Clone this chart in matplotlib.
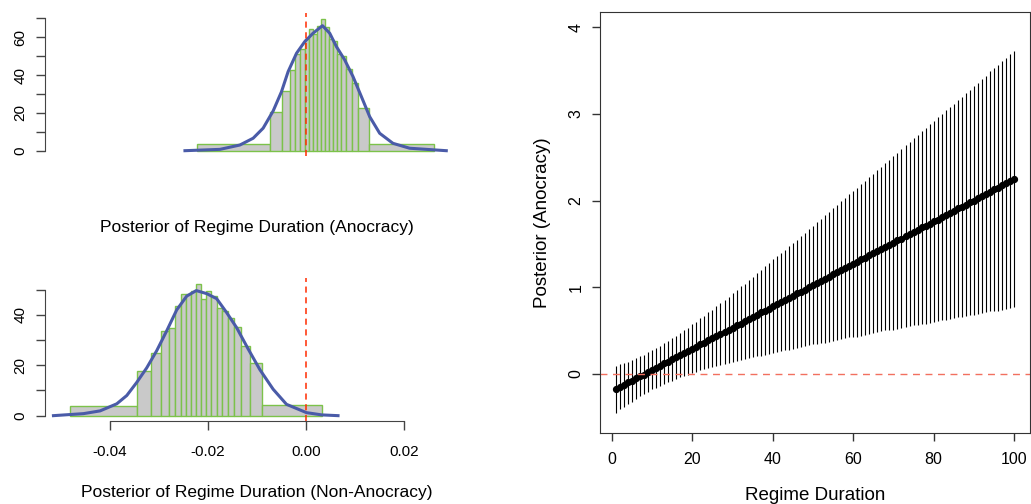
import matplotlib

matplotlib.use("Agg")

import matplotlib.pyplot as plt
import numpy as np

plt.rcParams["font.family"] = ["Liberation Sans", "DejaVu Sans"]

# Posterior of regime duration, anocracy: unequal-width histogram + density
ANOC_BREAKS = [-0.02218, -0.00732, -0.00488, -0.00332, -0.00216, -0.00118, -0.00026,
               0.00061, 0.00142, 0.00224, 0.00313, 0.00395, 0.00468, 0.00543, 0.00631,
               0.00720, 0.00822, 0.00936, 0.01066, 0.01282, 0.02612]
ANOC_HEIGHTS = [3.3, 20.3, 31.6, 42.7, 51.0, 53.6, 58.9, 64.4, 61.6, 66.1,
                69.5, 65.6, 58.9, 58.0, 51.0, 50.0, 43.0, 35.6, 22.5, 3.6]
ANOC_DENS_X = [-0.02468, -0.01756, -0.01349, -0.01078, -0.00875, -0.00671, -0.00501,
               -0.00366, -0.00195, -0.00026, 0.00142, 0.00334, 0.00482, 0.00619, 0.00787,
               0.00956, 0.01127, 0.01296, 0.01500, 0.01770, 0.02110, 0.02857]
ANOC_DENS_Y = [0.0, 0.7, 3.0, 6.6, 11.9, 21.0, 31.2, 41.8, 51.5, 57.7, 62.1,
               66.1, 62.1, 55.0, 48.0, 39.2, 28.6, 18.0, 9.2, 3.9, 1.3, 0.0]

# Posterior of regime duration, non-anocracy
NONANOC_BREAKS = [-0.04808, -0.03451, -0.03166, -0.02966, -0.02787, -0.02671, -0.02555,
                  -0.02441, -0.02352, -0.02250, -0.02148, -0.02047, -0.01929, -0.01823,
                  -0.01721, -0.01599, -0.01465, -0.01329, -0.01146, -0.00907, 0.00319]
NONANOC_HEIGHTS = [3.8, 17.6, 25.0, 33.7, 35.0, 43.5, 48.4, 48.4, 49.5, 52.5,
                   46.2, 49.4, 47.5, 42.7, 41.5, 38.7, 35.1, 27.8, 20.8, 4.1]
NONANOC_DENS_X = [-0.05148, -0.04537, -0.04197, -0.03858, -0.03654, -0.03451, -0.03247,
                  -0.03044, -0.02840, -0.02637, -0.02433, -0.02238, -0.02026, -0.01823,
                  -0.01620, -0.01416, -0.01180, -0.00942, -0.00671, -0.00399, 0.00008,
                  0.00319, 0.00651]
NONANOC_DENS_Y = [0.0, 0.8, 1.9, 4.7, 8.0, 13.2, 19.0, 25.8, 33.7, 42.0, 47.5, 49.7,
                  48.5, 46.5, 41.0, 35.0, 26.5, 18.3, 10.5, 4.5, 1.2, 0.3, 0.0]

# Effect of regime duration (anocracy): posterior mean and interval per year
DURATION = list(range(1, 101))
POST_MEAN = [
    -0.18, -0.15, -0.13, -0.10, -0.08, -0.05, -0.03, -0.01, 0.02, 0.04,
    0.07, 0.09, 0.12, 0.14, 0.17, 0.19, 0.22, 0.24, 0.26, 0.29,
    0.31, 0.34, 0.36, 0.39, 0.41, 0.44, 0.46, 0.48, 0.51, 0.53,
    0.56, 0.58, 0.61, 0.63, 0.66, 0.68, 0.71, 0.73, 0.75, 0.78,
    0.80, 0.83, 0.85, 0.88, 0.90, 0.93, 0.95, 0.97, 1.00, 1.02,
    1.05, 1.07, 1.10, 1.12, 1.15, 1.17, 1.20, 1.22, 1.24, 1.27,
    1.29, 1.32, 1.34, 1.37, 1.39, 1.42, 1.44, 1.46, 1.49, 1.51,
    1.54, 1.56, 1.59, 1.61, 1.64, 1.66, 1.69, 1.71, 1.73, 1.76,
    1.78, 1.81, 1.83, 1.86, 1.88, 1.91, 1.93, 1.95, 1.98, 2.00,
    2.03, 2.05, 2.08, 2.10, 2.13, 2.15, 2.18, 2.20, 2.22, 2.25,
]
POST_LOWER = [
    -0.45, -0.41, -0.38, -0.35, -0.32, -0.29, -0.26, -0.23, -0.21, -0.18,
    -0.16, -0.14, -0.12, -0.09, -0.08, -0.06, -0.04, -0.02, -0.01, 0.01,
    0.02, 0.04, 0.05, 0.07, 0.08, 0.09, 0.10, 0.11, 0.13, 0.14,
    0.15, 0.16, 0.17, 0.18, 0.19, 0.20, 0.21, 0.22, 0.23, 0.24,
    0.25, 0.26, 0.27, 0.28, 0.29, 0.30, 0.31, 0.32, 0.33, 0.34,
    0.34, 0.35, 0.36, 0.37, 0.38, 0.39, 0.40, 0.41, 0.42, 0.42,
    0.43, 0.44, 0.45, 0.46, 0.47, 0.48, 0.49, 0.50, 0.50, 0.51,
    0.52, 0.53, 0.54, 0.55, 0.56, 0.56, 0.57, 0.58, 0.59, 0.60,
    0.61, 0.62, 0.62, 0.63, 0.64, 0.65, 0.66, 0.67, 0.68, 0.68,
    0.69, 0.70, 0.71, 0.72, 0.73, 0.73, 0.74, 0.75, 0.76, 0.77,
]
POST_UPPER = [
    0.09, 0.11, 0.13, 0.14, 0.16, 0.18, 0.20, 0.22, 0.25, 0.27,
    0.30, 0.32, 0.35, 0.38, 0.41, 0.44, 0.47, 0.50, 0.53, 0.57,
    0.60, 0.64, 0.67, 0.71, 0.74, 0.78, 0.82, 0.85, 0.89, 0.93,
    0.97, 1.01, 1.04, 1.08, 1.12, 1.16, 1.20, 1.24, 1.28, 1.32,
    1.36, 1.39, 1.43, 1.47, 1.51, 1.55, 1.59, 1.63, 1.67, 1.71,
    1.75, 1.79, 1.83, 1.87, 1.91, 1.95, 1.99, 2.03, 2.07, 2.11,
    2.15, 2.19, 2.23, 2.27, 2.31, 2.35, 2.39, 2.43, 2.47, 2.51,
    2.55, 2.60, 2.64, 2.68, 2.72, 2.76, 2.80, 2.84, 2.88, 2.92,
    2.96, 3.00, 3.04, 3.08, 3.12, 3.16, 3.20, 3.24, 3.28, 3.32,
    3.36, 3.40, 3.44, 3.49, 3.53, 3.57, 3.61, 3.65, 3.69, 3.73,
]

BAR_FILL = "#C9C9C9"
BAR_EDGE = "#7CC24A"
DENS_COLOR = "#4A5BA8"
ZERO_RED = "#FF2B00"
ZERO_SALMON = "#F2705F"
AXIS_COLOR = "#444444"
HIST_XLIM = (-0.0532, 0.0332)


def draw_histogram(ax, breaks, heights, dens_x, dens_y, ymax, ylim):
    breaks = np.asarray(breaks)
    ax.bar(breaks[:-1], heights, width=np.diff(breaks), align="edge",
           color=BAR_FILL, edgecolor=BAR_EDGE, linewidth=1.0)
    ax.plot(dens_x, dens_y, color=DENS_COLOR, linewidth=2.2, solid_joinstyle="round")
    ax.axvline(0, color=ZERO_RED, linewidth=1.1, linestyle=(0, (4, 3)))
    ax.set_xlim(*HIST_XLIM)
    ax.set_ylim(*ylim)

    ax.spines[["top", "right"]].set_visible(False)
    ax.spines["left"].set_bounds(0, ymax)
    ax.spines["left"].set_color(AXIS_COLOR)
    ticks = list(range(0, ymax + 1, 10))
    ax.set_yticks(ticks)
    ax.set_yticklabels([str(t) if t % 20 == 0 else "" for t in ticks])
    ax.tick_params(axis="y", length=6.5, width=1, color=AXIS_COLOR,
                   labelsize=11, pad=6, labelrotation=90)
    for label in ax.get_yticklabels():
        label.set_verticalalignment("center")


def main() -> None:
    fig = plt.figure(figsize=(10.31, 5.04), dpi=100)

    # top left: anocracy
    ax1 = fig.add_axes([0.04365, 0.6905, 0.41125, 0.2837])
    draw_histogram(ax1, ANOC_BREAKS, ANOC_HEIGHTS, ANOC_DENS_X, ANOC_DENS_Y, 70, (-2.8, 72.8))
    ax1.spines["bottom"].set_visible(False)
    ax1.set_xticks([])
    ax1.text(0.5, -0.5035, "Posterior of Regime Duration (Anocracy)", transform=ax1.transAxes,
             ha="center", va="center", fontsize=12.5)

    # bottom left: non-anocracy
    ax2 = fig.add_axes([0.04365, 0.1653, 0.41125, 0.2831])
    draw_histogram(ax2, NONANOC_BREAKS, NONANOC_HEIGHTS, NONANOC_DENS_X, NONANOC_DENS_Y, 50, (-2.0, 54.7))
    ax2.spines["bottom"].set_bounds(-0.04, 0.02)
    ax2.spines["bottom"].set_color(AXIS_COLOR)
    ax2.set_xticks([-0.04, -0.02, 0.0, 0.02])
    ax2.set_xticklabels(["-0.04", "-0.02", "0.00", "0.02"])
    ax2.tick_params(axis="x", length=6.5, width=1, color=AXIS_COLOR, labelsize=11, pad=11)
    ax2.text(0.5, -0.5067, "Posterior of Regime Duration (Non-Anocracy)", transform=ax2.transAxes,
             ha="center", va="center", fontsize=12.5)

    # right: posterior effect by regime duration
    ax3 = fig.add_axes([0.58196, 0.14147, 0.4171, 0.8353])
    ax3.vlines(DURATION, POST_LOWER, POST_UPPER, color="black", linewidth=0.8)
    ax3.plot(DURATION, POST_MEAN, linestyle="none", marker="o", markersize=4.2,
             color="black")
    ax3.axhline(0, color=ZERO_SALMON, linewidth=1.0, linestyle=(0, (5, 4)))
    ax3.set_xlim(-2.96, 103.96)
    ax3.set_ylim(-0.68, 4.18)
    ax3.set_xticks([0, 20, 40, 60, 80, 100])
    ax3.set_yticks([0, 1, 2, 3, 4])
    for spine in ax3.spines.values():
        spine.set_color("#333333")
    ax3.tick_params(length=6, width=1, color="#333333", labelsize=11.5)
    ax3.tick_params(axis="x", pad=8)
    ax3.tick_params(axis="y", pad=6, labelrotation=90)
    for label in ax3.get_yticklabels():
        label.set_verticalalignment("center")
    ax3.text(0.5, -0.148, "Regime Duration", transform=ax3.transAxes,
             ha="center", va="center", fontsize=13.5)
    ax3.text(-0.1326, 0.5, "Posterior (Anocracy)", transform=ax3.transAxes,
             ha="center", va="center", rotation=90, fontsize=13.5)

    fig.savefig("out.png", dpi=100)
    plt.close(fig)


if __name__ == "__main__":
    main()
